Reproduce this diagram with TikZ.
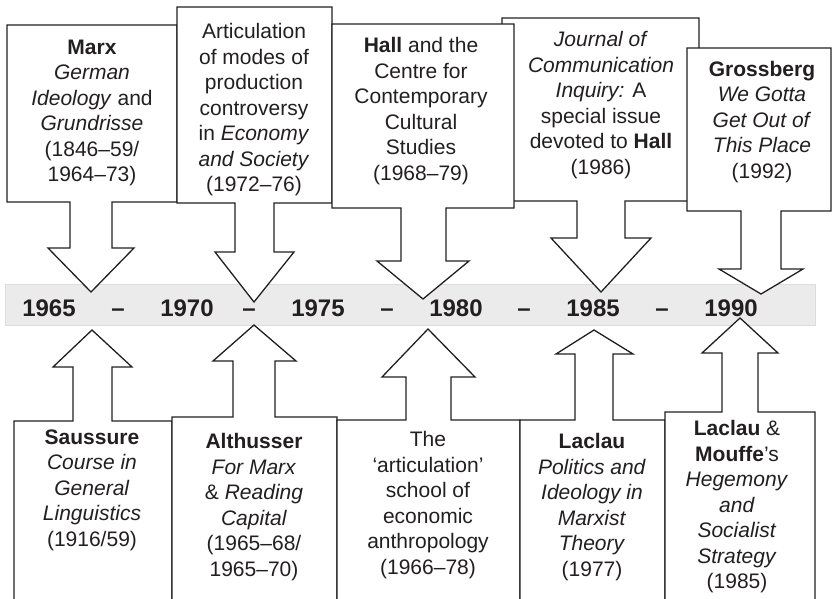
\documentclass[tikz,border=0pt]{standalone}
\usepackage{fontspec}
\setmainfont{Liberation Sans}
\usetikzlibrary{positioning}
\definecolor{inkgray}{HTML}{231F20}
\definecolor{bandfill}{HTML}{EBEBEB}
\definecolor{bandline}{HTML}{DCDCDC}

\begin{document}
\begin{tikzpicture}[
    x=1pt, y=-1pt,
    callout/.style={draw=inkgray, fill=white, line width=1.3pt, line join=miter},
    blurb/.style={align=center, inner sep=0pt, text=inkgray, font=\fontsize{21}{25.5}\selectfont},
    year/.style={anchor=base, inner sep=0pt, text=inkgray, font=\fontsize{24}{28}\selectfont\bfseries}
]
\useasboundingbox (0,0) rectangle (832,598);
\clip (0,0) rectangle (832,598);

% timeline band
\filldraw[fill=bandfill, draw=bandline, line width=1pt] (5,284) rectangle (815,325);

% upper callouts
\draw[callout] (7,25) -- (177,25) -- (177,202) -- (112,202) -- (112,248) -- (134,248) -- (91,292) -- (48,248) -- (70,248) -- (70,202) -- (7,202) -- cycle;
\node[blurb] (marx) at (92,113) {\textbf{Marx}\\ \textit{German}\\ \textit{Ideology} and\\ \textit{Grundrisse}\\ (1846–59/\\ 1964–73)};
\draw[callout] (177,7) -- (332,7) -- (332,203) -- (274,203) -- (274,252) -- (294,252) -- (254,302) -- (215,252) -- (235,252) -- (235,203) -- (177,203) -- cycle;
\node[blurb] (modes) at (254,110) {Articulation\\ of modes of\\ production\\ controversy\\ in \textit{Economy}\\ \textit{and Society}\\ (1972–76)};
\draw[callout] (502,18) -- (699,18) -- (699,201) -- (625,201) -- (625,238) -- (651,238) -- (601,292) -- (551,238) -- (577,238) -- (577,201) -- (502,201) -- cycle;
\node[blurb] (journal) at (601,105) {\textit{Journal of}\\ \textit{Communication}\\ \textit{Inquiry:} A\\ special issue\\ devoted to \textbf{Hall}\\ (1986)};
\draw[callout] (332,24) -- (514,24) -- (514,208) -- (446,208) -- (446,261) -- (469,261) -- (423,299) -- (377,261) -- (401,261) -- (401,208) -- (332,208) -- cycle;
\node[blurb] (hall) at (421,111) {\textbf{Hall} and the\\ Centre for\\ Contemporary\\ Cultural\\ Studies\\ (1968–79)};
\draw[callout] (687,48) -- (831,48) -- (831,211) -- (781,211) -- (781,269) -- (803,269) -- (761,294) -- (719,269) -- (741,269) -- (741,211) -- (687,211) -- cycle;
\node[blurb] (grossberg) at (762,122) {\textbf{Grossberg}\\ \textit{We Gotta}\\ \textit{Get Out of}\\ \textit{This Place}\\ (1992)};

% lower callouts
\draw[callout] (14,610) -- (14,421) -- (73,421) -- (73,367) -- (53,367) -- (92,330) -- (132,367) -- (112,367) -- (112,421) -- (172,421) -- (172,610) -- cycle;
\node[blurb] (saussure) at (92,490) {\textbf{Saussure}\\ \textit{Course in}\\ \textit{General}\\ \textit{Linguistics}\\ (1916/59)};
\draw[callout] (172,610) -- (172,417) -- (233,417) -- (233,361) -- (213,361) -- (254,325) -- (296,361) -- (275,361) -- (275,417) -- (337,417) -- (337,610) -- cycle;
\node[blurb] (althusser) at (254,507) {\textbf{Althusser}\\ \textit{For Marx}\\ \& \textit{Reading}\\ \textit{Capital}\\ (1965–68/\\ 1965–70)};
\draw[callout] (337,610) -- (337,420) -- (406,420) -- (406,377) -- (382,377) -- (428,329) -- (475,377) -- (451,377) -- (451,420) -- (520,420) -- (520,610) -- cycle;
\node[blurb] (school) at (428,505) {The\\ ‘articulation’\\ school of\\ economic\\ anthropology\\ (1966–78)};
\draw[callout] (520,610) -- (520,420) -- (575,420) -- (575,354) -- (556,354) -- (594,330) -- (633,354) -- (613,354) -- (613,420) -- (665,420) -- (665,610) -- cycle;
\node[blurb] (laclau) at (592,507) {\textbf{Laclau}\\ \textit{Politics and}\\ \textit{Ideology in}\\ \textit{Marxist}\\ \textit{Theory}\\ (1977)};
\draw[callout] (665,610) -- (665,412) -- (722,412) -- (722,353) -- (702,353) -- (740,318) -- (778,353) -- (758,353) -- (758,412) -- (815,412) -- (815,610) -- cycle;
\node[blurb] (mouffe) at (737,507) {\textbf{Laclau} \&\\ \textbf{Mouffe}'s\\ \textit{Hegemony}\\ \textit{and}\\ \textit{Socialist}\\ \textit{Strategy}\\ (1985)};

% years
\node[year] (y1965) at (49,316) {1965};
\node[year] (d1) at (118,316) {–};
\node[year] (y1970) at (187,316) {1970};
\node[year] (d2) at (249,316) {–};
\node[year] (y1975) at (318,316) {1975};
\node[year] (d3) at (387,316) {–};
\node[year] (y1980) at (456,316) {1980};
\node[year] (d4) at (524,316) {–};
\node[year] (y1985) at (593,316) {1985};
\node[year] (d5) at (662,316) {–};
\node[year] (y1990) at (731,316) {1990};
\end{tikzpicture}
\end{document}
